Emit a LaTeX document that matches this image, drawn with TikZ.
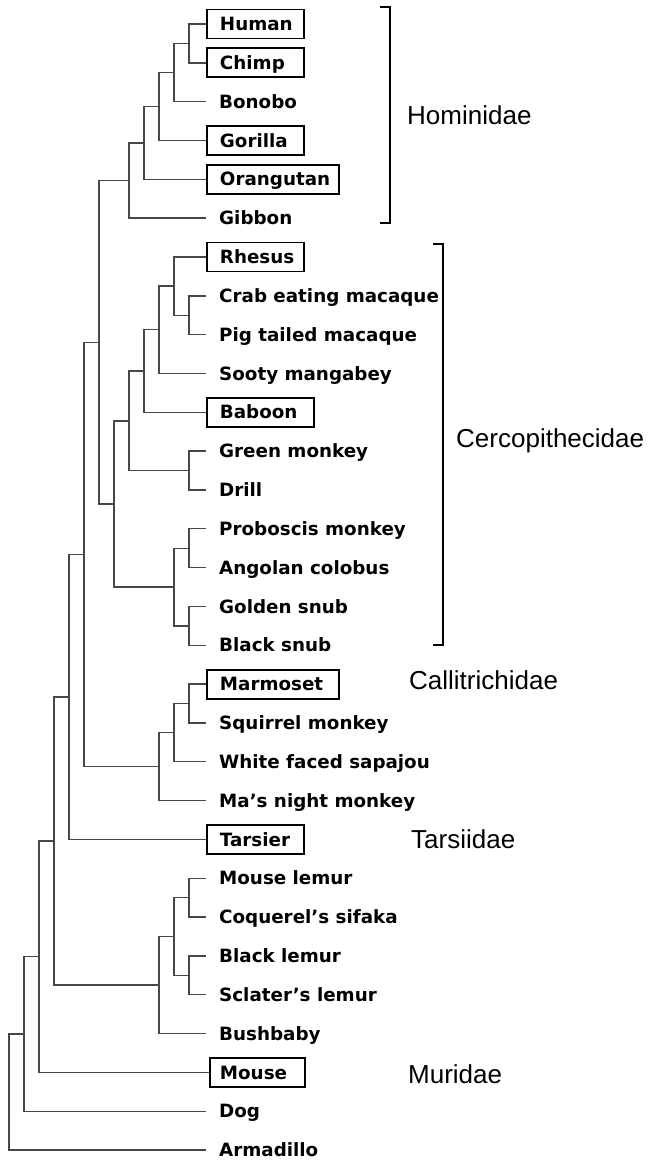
\documentclass[tikz,border=0pt]{standalone}
\usepackage{fontspec}
\setmainfont{Liberation Sans}
\newfontfamily\leaffont{DejaVu Sans}
\usetikzlibrary{calc}
\tikzset{
  branch/.style={draw=black!72, line width=1.4pt},
  leaf/.style={anchor=west, inner xsep=13pt, inner ysep=7.85pt, text height=13.3pt, text depth=0pt,
    font=\leaffont\bfseries\fontsize{18.3}{20}\selectfont},
  boxed/.style={draw=black, line width=1.9pt, text width=#1, align=left},
  family/.style={anchor=base west, inner sep=0pt, font=\fontsize{26}{30}\selectfont},
  bracket/.style={draw=black, line width=2pt},
}
\newcommand\Yl[1]{24+38.83*#1}
\newcommand\clade[4]{%
  \coordinate (#1m) at ($(#3)!.5!(#4)$);
  \coordinate (#1) at (#2,0 |- #1m);
  \draw[branch] (#3) -| (#1) |- (#4);
}
\begin{document}
\begin{tikzpicture}[x=1pt,y=-1pt]
\useasboundingbox (0,0) rectangle (649,1173);
% leaves
\node[leaf,boxed=71pt] (human) at (206,{\Yl{0}}) {Human};
\node[leaf,boxed=71pt] (chimp) at (206,{\Yl{1}}) {Chimp};
\node[leaf] (bonobo) at (206,{\Yl{2}}) {Bonobo};
\node[leaf,boxed=71pt] (gorilla) at (206,{\Yl{3}}) {Gorilla};
\node[leaf,boxed=106pt] (orangutan) at (206,{\Yl{4}}) {Orangutan};
\node[leaf] (gibbon) at (206,{\Yl{5}}) {Gibbon};
\node[leaf,boxed=71pt] (rhesus) at (206,{\Yl{6}}) {Rhesus};
\node[leaf] (crab) at (206,{\Yl{7}}) {Crab eating macaque};
\node[leaf] (pig) at (206,{\Yl{8}}) {Pig tailed macaque};
\node[leaf] (sooty) at (206,{\Yl{9}}) {Sooty mangabey};
\node[leaf,boxed=81pt] (baboon) at (206,{\Yl{10}}) {Baboon};
\node[leaf] (green) at (206,{\Yl{11}}) {Green monkey};
\node[leaf] (drill) at (206,{\Yl{12}}) {Drill};
\node[leaf] (proboscis) at (206,{\Yl{13}}) {Proboscis monkey};
\node[leaf] (angolan) at (206,{\Yl{14}}) {Angolan colobus};
\node[leaf] (golden) at (206,{\Yl{15}}) {Golden snub};
\node[leaf] (blacksnub) at (206,{\Yl{16}}) {Black snub};
\node[leaf,boxed=106pt] (marmoset) at (206,{\Yl{17}}) {Marmoset};
\node[leaf] (squirrel) at (206,{\Yl{18}}) {Squirrel monkey};
\node[leaf] (white) at (206,{\Yl{19}}) {White faced sapajou};
\node[leaf] (ma) at (206,{\Yl{20}}) {Ma’s night monkey};
\node[leaf,boxed=71pt] (tarsier) at (206,{\Yl{21}}) {Tarsier};
\node[leaf] (mlemur) at (206,{\Yl{22}}) {Mouse lemur};
\node[leaf] (coquerel) at (206,{\Yl{23}}) {Coquerel’s sifaka};
\node[leaf] (blemur) at (206,{\Yl{24}}) {Black lemur};
\node[leaf] (sclater) at (206,{\Yl{25}}) {Sclater’s lemur};
\node[leaf] (bushbaby) at (206,{\Yl{26}}) {Bushbaby};
\node[leaf,boxed=75pt,inner xsep=10pt] (mouse) at (209,{\Yl{27}}) {Mouse};
\node[leaf] (dog) at (206,{\Yl{28}}) {Dog};
\node[leaf] (armadillo) at (206,{\Yl{29}}) {Armadillo};
% clades
\clade{a1}{189}{human.west}{chimp.west}
\clade{a2}{174}{a1}{bonobo.west}
\clade{a3}{159}{a2}{gorilla.west}
\clade{a4}{144}{a3}{orangutan.west}
\clade{a5}{129}{a4}{gibbon.west}
\clade{c1}{189}{crab.west}{pig.west}
\clade{c2}{174}{rhesus.west}{c1}
\clade{c3}{159}{c2}{sooty.west}
\clade{c4}{144}{c3}{baboon.west}
\clade{c5}{189}{green.west}{drill.west}
\clade{c6}{129}{c4}{c5}
\clade{c7}{189}{proboscis.west}{angolan.west}
\clade{c8}{189}{golden.west}{blacksnub.west}
\clade{c9}{174}{c7}{c8}
\clade{c10}{114}{c6}{c9}
\clade{p1}{99}{a5}{c10}
\clade{m1}{189}{marmoset.west}{squirrel.west}
\clade{m2}{174}{m1}{white.west}
\clade{m3}{159}{m2}{ma.west}
\clade{p2}{84}{p1}{m3}
\clade{p3}{69}{p2}{tarsier.west}
\clade{l1}{189}{mlemur.west}{coquerel.west}
\clade{l2}{189}{blemur.west}{sclater.west}
\clade{l3}{174}{l1}{l2}
\clade{l4}{159}{l3}{bushbaby.west}
\clade{p4}{54}{p3}{l4}
\clade{p5}{39}{p4}{mouse.west}
\clade{p6}{24}{p5}{dog.west}
\clade{p7}{9}{p6}{armadillo.west}
% brackets
\draw[bracket] (380,7) -- (390,7) -- (390,223) -- (380,223);
\draw[bracket] (433,244) -- (443,244) -- (443,645) -- (433,645);
% family labels
\node[family] (hominidae) at (407,124) {Hominidae};
\node[family] (cerco) at (456,447) {Cercopithecidae};
\node[family] (calli) at (409,689) {Callitrichidae};
\node[family] (tarsiidae) at (411,848) {Tarsiidae};
\node[family] (muridae) at (408,1083) {Muridae};
\end{tikzpicture}
\end{document}
